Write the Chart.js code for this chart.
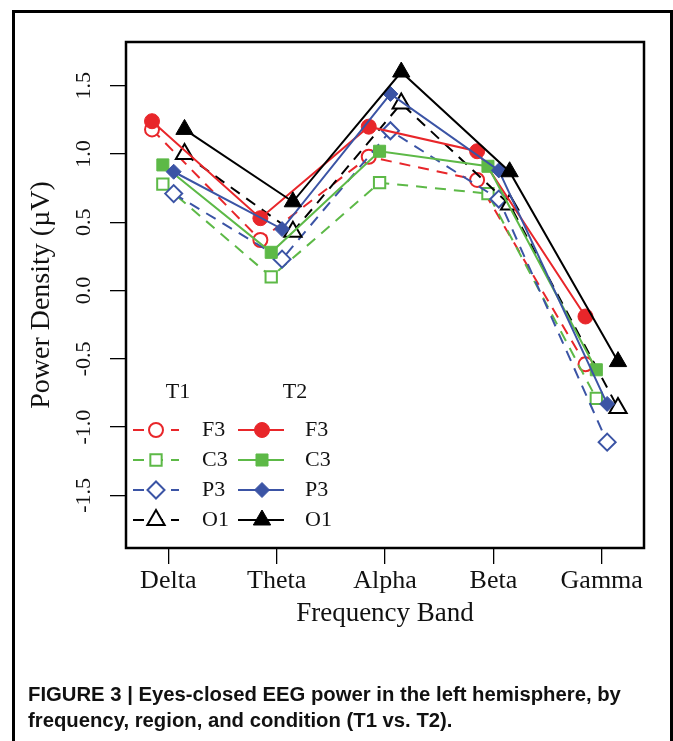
<!DOCTYPE html>
<html>
<head>
<meta charset="utf-8">
<script src="https://cdn.jsdelivr.net/npm/chart.js@4/dist/chart.umd.min.js"></script>
<style>
body{margin:0;background:#fff;width:673px;height:741px;overflow:hidden;position:relative}
#frame{position:absolute;left:12px;top:10px;width:661px;height:760px;border:3px solid #000;box-sizing:border-box}
#chart{position:absolute;left:0;top:0}
#caption{position:absolute;left:28px;top:681px;font:bold 20.3px "Liberation Sans",Arial,sans-serif;line-height:26px;color:#111;white-space:nowrap}
</style>
</head>
<body>
<div id="frame"></div>
<canvas id="chart" width="673" height="741"></canvas>
<div id="caption">FIGURE 3 | Eyes-closed EEG power in the left hemisphere, by<br>frequency, region, and condition (T1 vs. T2).</div>
<script>
let bands=["Delta","Theta","Alpha","Beta","Gamma"]
let yTicks=[-1.5,-1.0,-0.5,0.0,0.5,1.0,1.5]

// T1 (open markers, dashed)
let f3T1=[1.18,0.37,0.98,0.81,-0.54]
let c3T1=[0.78,0.10,0.79,0.71,-0.79]
let p3T1=[0.71,0.23,1.17,0.67,-1.11]
let o1T1=[1.00,0.43,1.37,0.63,-0.86]

// T2 (filled markers, solid)
let f3T2=[1.24,0.53,1.20,1.02,-0.19]
let c3T2=[0.92,0.28,1.02,0.91,-0.58]
let p3T2=[0.87,0.45,1.44,0.88,-0.83]
let o1T2=[1.18,0.65,1.60,0.87,-0.52]

let regions=["F3","C3","P3","O1"]
let colors=["#E8262A","#5DB947","#3B54A5","#000000"]
let dodge=[-0.15,-0.05,0.05,0.15]
let openStyle=[["circle",7],["rect",8],["rectRot",8.5],["triangle",10]]
let fillStyle=[["circle",7.5],["rect",8.5],["rectRot",7.5],["triangle",10]]
let dash=[11,8]

let t1=[f3T1,c3T1,p3T1,o1T1]
let t2=[f3T2,c3T2,p3T2,o1T2]

function pts(vals,k){
return vals.map((v,i)=>({x:i+1+dodge[k],y:v}))
}

let datasets=[]
regions.forEach((r,k)=>{
datasets.push({
label:r+" T1",
data:pts(t1[k],k),
borderColor:colors[k],
borderWidth:2,
borderDash:dash,
pointStyle:openStyle[k][0],
pointRadius:openStyle[k][1],
pointBorderWidth:2,
pointBorderColor:colors[k],
pointBackgroundColor:"#fff",
order:7-k
})
})
regions.forEach((r,k)=>{
datasets.push({
label:r+" T2",
data:pts(t2[k],k),
borderColor:colors[k],
borderWidth:2,
pointStyle:fillStyle[k][0],
pointRadius:fillStyle[k][1],
pointBorderWidth:1,
pointBorderColor:colors[k],
pointBackgroundColor:colors[k],
order:3-k
})
})

let serif="'Liberation Serif','Times New Roman',serif"

let boxPlugin={
id:"box",
afterDraw(chart){
let c=chart.ctx,a=chart.chartArea
c.save()
c.strokeStyle="#000"
c.lineWidth=2.5
c.strokeRect(a.left,a.top,a.right-a.left,a.bottom-a.top)
c.restore()
}
}

let legendPlugin={
id:"rlegend",
afterDraw(chart){
let c=chart.ctx,a=chart.chartArea
let x0=a.left,yb=a.bottom
c.save()
c.fillStyle="#111"
c.font="22px "+serif
c.textBaseline="middle"
c.textAlign="center"
c.fillText("T1",x0+52,yb-156)
c.fillText("T2",x0+169,yb-156)
c.textAlign="left"
regions.forEach((r,k)=>{
let y=yb-118+k*30
let ds1=chart.data.datasets[k],ds2=chart.data.datasets[k+4]
c.strokeStyle=colors[k]
c.lineWidth=2
c.setLineDash(dash)
c.beginPath();c.moveTo(x0+7,y);c.lineTo(x0+53,y);c.stroke()
c.setLineDash([])
c.fillStyle="#fff"
Chart.helpers.drawPoint(c,{pointStyle:ds1.pointStyle,radius:ds1.pointRadius,borderWidth:2,rotation:0},x0+30,y)
c.beginPath();c.moveTo(x0+112,y);c.lineTo(x0+158,y);c.stroke()
c.fillStyle=colors[k]
c.lineWidth=1
Chart.helpers.drawPoint(c,{pointStyle:ds2.pointStyle,radius:ds2.pointRadius,borderWidth:1,rotation:0},x0+136,y)
c.fillStyle="#111"
c.fillText(r,x0+76,y)
c.fillText(r,x0+179,y)
})
c.restore()
}
}

let ctx=document.getElementById("chart").getContext("2d")

let chart=new Chart(ctx,{
type:"line",
data:{datasets:datasets},
options:{
responsive:false,
animation:false,
events:[],
layout:{padding:{left:20,right:29,top:42,bottom:93}},
plugins:{legend:{display:false},tooltip:{enabled:false}},
scales:{
x:{
type:"linear",
min:0.61,
max:5.39,
afterBuildTicks:s=>{s.ticks=bands.map((b,i)=>({value:i+1}))},
afterFit:s=>{s.height=100},
grid:{drawOnChartArea:false,drawTicks:true,tickLength:16,color:"#000",lineWidth:1.3},
border:{display:false},
ticks:{padding:2,color:"#111",font:{family:serif,size:26},callback:v=>bands[v-1],maxRotation:0,autoSkip:false},
title:{display:true,text:"Frequency Band",color:"#111",font:{family:serif,size:27},padding:{top:0,bottom:18}}
},
y:{
min:-1.885,
max:1.82,
afterBuildTicks:s=>{s.ticks=yTicks.map(v=>({value:v}))},
afterFit:s=>{s.width=106},
grid:{drawOnChartArea:false,drawTicks:true,tickLength:16,color:"#000",lineWidth:1.3},
border:{display:false},
ticks:{padding:8,color:"#111",font:{family:serif,size:22},crossAlign:"center",minRotation:90,maxRotation:90,callback:v=>v.toFixed(1)},
title:{display:true,text:"Power Density (µV)",color:"#111",font:{family:serif,size:28},padding:{top:5,bottom:0}}
}
}
},
plugins:[boxPlugin,legendPlugin]
})
</script>
</body>
</html>
